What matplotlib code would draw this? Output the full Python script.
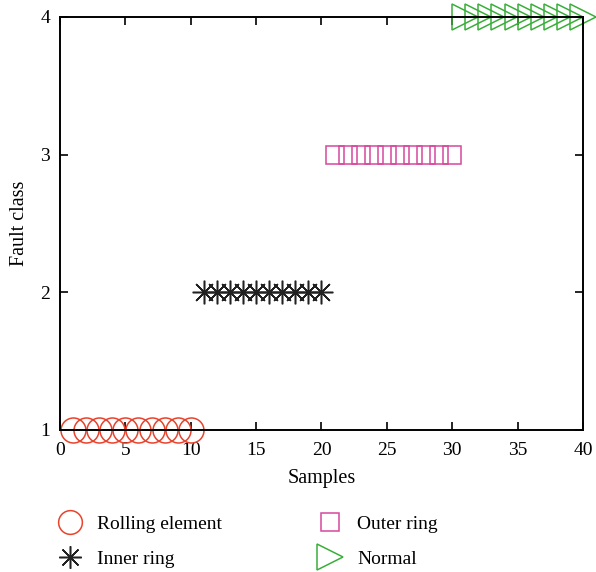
import matplotlib.pyplot as plt

plt.rcParams['font.family'] = ['Liberation Serif', 'DejaVu Serif']

# samples and predicted fault class
rolling_x = [1, 2, 3, 4, 5, 6, 7, 8, 9, 10]
rolling_y = [1, 1, 1, 1, 1, 1, 1, 1, 1, 1]
inner_x = [11, 12, 13, 14, 15, 16, 17, 18, 19, 20]
inner_y = [2, 2, 2, 2, 2, 2, 2, 2, 2, 2]
outer_x = [21, 22, 23, 24, 25, 26, 27, 28, 29, 30]
outer_y = [3, 3, 3, 3, 3, 3, 3, 3, 3, 3]
normal_x = [31, 32, 33, 34, 35, 36, 37, 38, 39, 40]
normal_y = [4, 4, 4, 4, 4, 4, 4, 4, 4, 4]

x_ticks = [0, 5, 10, 15, 20, 25, 30, 35, 40]
y_ticks = [1, 2, 3, 4]

fig = plt.figure(figsize=(5.96, 5.72), dpi=100)
ax = fig.add_axes([0.1007, 0.2483, 0.8773, 0.722])

ax.plot(rolling_x, rolling_y, 'o', ms=18, mfc='none', mec='#e8432d', mew=1.1,
        clip_on=False, label='Rolling element')
ax.plot(inner_x, inner_y, marker=(8, 2, 0), ls='none', ms=17, color='#222222', mew=1.1,
        clip_on=False, label='Inner ring')
ax.plot(outer_x, outer_y, 's', ms=13, mfc='none', mec='#d6489e', mew=1.1,
        clip_on=False, label='Outer ring')
ax.plot(normal_x, normal_y, '>', ms=19, mfc='none', mec='#3aae3a', mew=1.1,
        clip_on=False, label='Normal')

ax.set_xlim(0, 40)
ax.set_ylim(1, 4)
ax.set_xticks(x_ticks)
ax.set_yticks(y_ticks)
ax.tick_params(direction='in', top=True, right=True, length=6, width=1.2,
               labelsize=14)
ax.tick_params(axis='x', pad=9)
ax.tick_params(axis='y', pad=7)
for s in ax.spines.values():
    s.set_linewidth(1.4)
ax.set_xlabel('Samples', fontsize=14.5, labelpad=7)
ax.set_ylabel('Fault class', fontsize=14.5, labelpad=8)

handles, labels = ax.get_legend_handles_labels()
fig.legend(handles, labels, ncol=2, loc='upper left', bbox_to_anchor=(0.08, 0.113),
           borderaxespad=0, frameon=False, fontsize=14, columnspacing=4.8,
           handletextpad=0.65, labelspacing=0.9, handlelength=1.5, markerscale=0.95)

plt.savefig('out.png', dpi=100)
